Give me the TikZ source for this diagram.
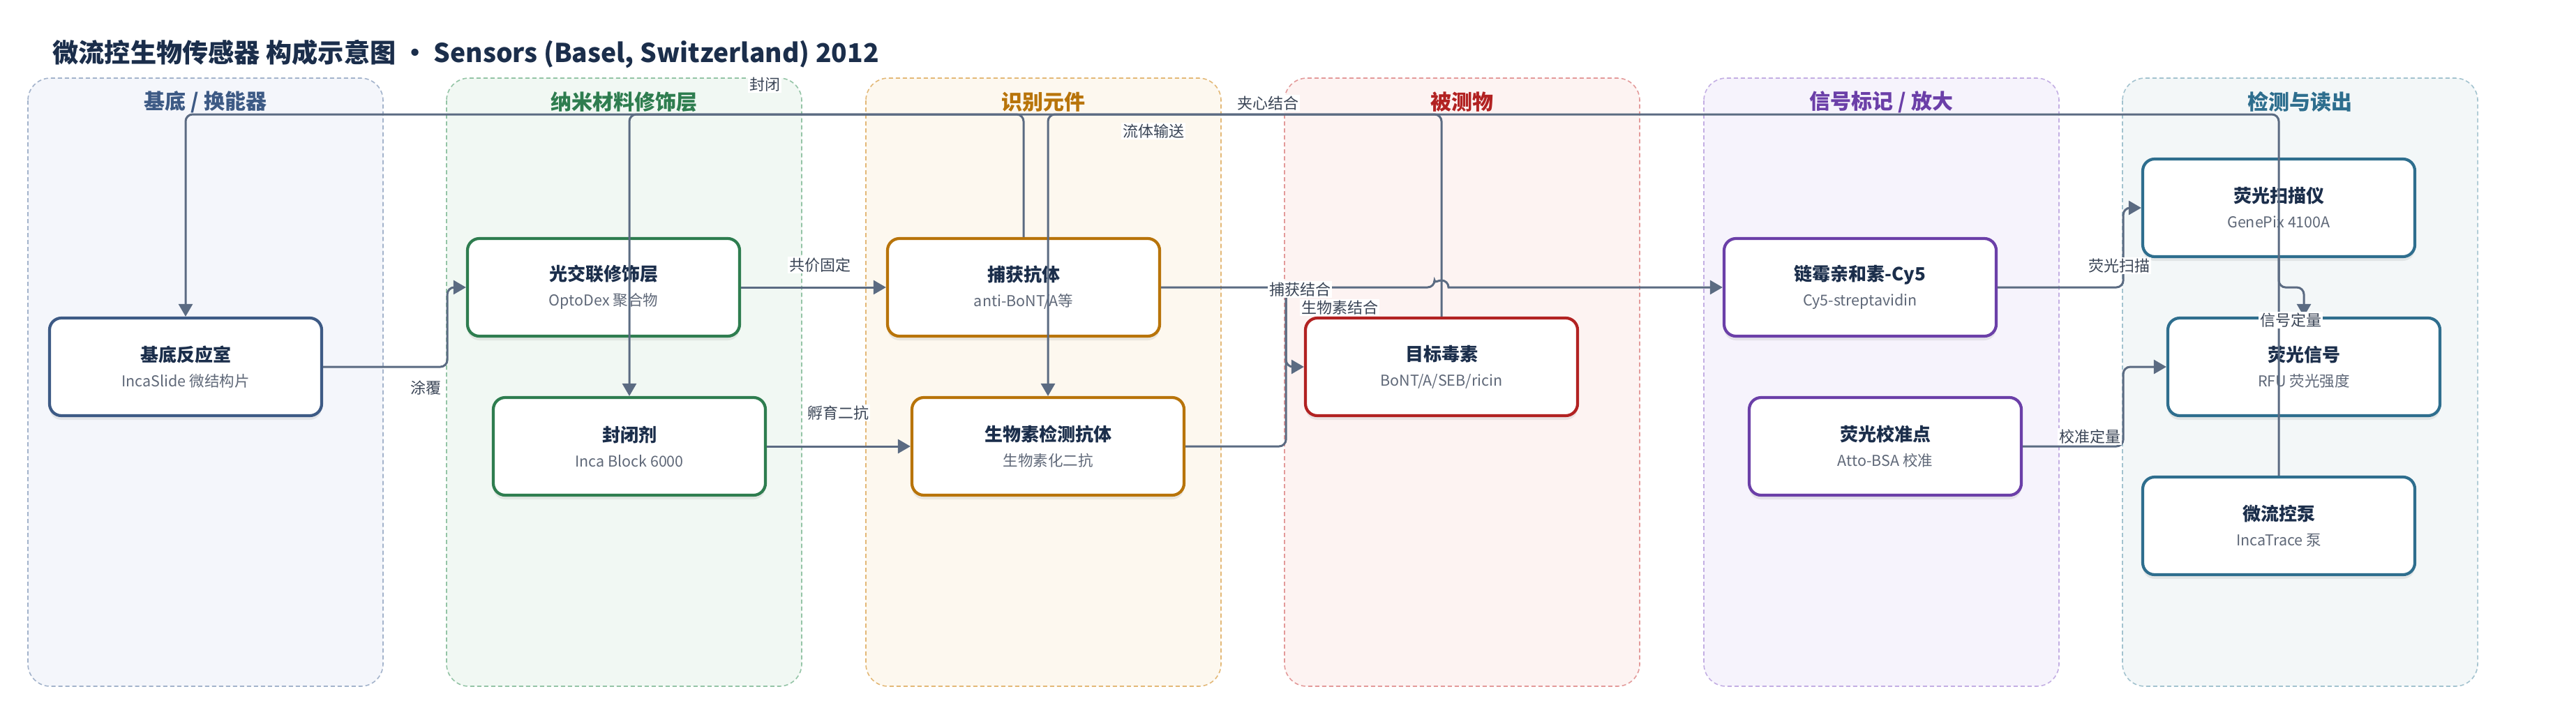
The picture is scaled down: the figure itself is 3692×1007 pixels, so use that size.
\documentclass[tikz,border=0pt]{standalone}
\usepackage{fontspec}
\setmainfont{Noto Sans CJK SC}
\usepackage{tikz}
\usetikzlibrary{arrows.meta, shadows, positioning}

\definecolor{inkC}{HTML}{1B2E4B}
\definecolor{edgeC}{HTML}{5B6B82}
\definecolor{subC}{HTML}{5F6878}
\definecolor{lblC}{HTML}{3A4556}
% lane colours: background / dashed border / accent
\definecolor{aBg}{HTML}{F4F6FB}\definecolor{aBd}{HTML}{A3B3CB}\definecolor{aC}{HTML}{3D5A85}
\definecolor{bBg}{HTML}{F1F8F3}\definecolor{bBd}{HTML}{94C4A6}\definecolor{bC}{HTML}{2E7D4F}
\definecolor{cBg}{HTML}{FDF8EF}\definecolor{cBd}{HTML}{E3B877}\definecolor{cC}{HTML}{B8740A}
\definecolor{dBg}{HTML}{FDF3F2}\definecolor{dBd}{HTML}{E39A9A}\definecolor{dC}{HTML}{B22222}
\definecolor{eBg}{HTML}{F6F3FC}\definecolor{eBd}{HTML}{C3AEE3}\definecolor{eC}{HTML}{6B3FA8}
\definecolor{fBg}{HTML}{F3F7F8}\definecolor{fBd}{HTML}{A3C3CF}\definecolor{fC}{HTML}{2E6E8E}

\newcommand{\subtxt}{\fontsize{10.75}{13}\selectfont\mdseries\color{subC}}

\begin{document}
\begin{tikzpicture}[x=0.5pt, y=-0.5pt,
    lane/.style={dash pattern=on 3pt off 2pt, line width=0.8pt, rounded corners=16pt},
    lanetitle/.style={font=\fontsize{15}{18}\selectfont\bfseries},
    box/.style={draw, line width=2.1pt, rounded corners=8.5pt, fill=white,
        minimum width=195pt, minimum height=70pt, align=center, text=inkC,
        font=\fontsize{13}{17}\selectfont\bfseries,
        drop shadow={shadow xshift=0pt, shadow yshift=-3pt, opacity=0.15}},
    flow/.style={draw=edgeC, line width=1.5pt, rounded corners=5pt,
        -{Triangle[length=9pt, width=10pt]}},
    lbl/.style={fill=white, inner sep=1pt, text=lblC, font=\fontsize{11}{13}\selectfont}]

    \useasboundingbox (0,0) rectangle (3692,1007);

    \node[anchor=west, inner sep=0pt, text=inkC, font=\fontsize{18.6}{22}\selectfont\bfseries] (title) at (75,77)
        {微流控生物传感器 构成示意图 · Sensors (Basel, Switzerland) 2012};

    % lanes
    \foreach \x/\ttl/\bg/\bd/\tc [count=\i] in {40/{基底 / 换能器}/aBg/aBd/aC, 640/纳米材料修饰层/bBg/bBd/bC,
            1241/识别元件/cBg/cBd/cC, 1841/被测物/dBg/dBd/dC,
            2442/{信号标记 / 放大}/eBg/eBd/eC, 3042/检测与读出/fBg/fBd/fC} {
        \draw[lane, fill=\bg, draw=\bd] (\x,112) rectangle ++(509,872);
        \node[lanetitle, text=\tc] (lane\i) at (\x+254.5,146) {\ttl};
    }

    % components
    \node[box, draw=aC] (slide) at (266,526) {基底反应室\\[1pt]{\subtxt IncaSlide 微结构片}};
    \node[box, draw=bC] (opto) at (865,412) {光交联修饰层\\[1pt]{\subtxt OptoDex 聚合物}};
    \node[box, draw=bC] (block) at (902,640) {封闭剂\\[1pt]{\subtxt Inca Block 6000}};
    \node[box, draw=cC] (capab) at (1467,412) {捕获抗体\\[1pt]{\subtxt anti-BoNT/A等}};
    \node[box, draw=cC] (detab) at (1502,640) {生物素检测抗体\\[1pt]{\subtxt 生物素化二抗}};
    \node[box, draw=dC] (toxin) at (2066,526) {目标毒素\\[1pt]{\subtxt BoNT/A/SEB/ricin}};
    \node[box, draw=eC] (strep) at (2666,412) {链霉亲和素-Cy5\\[1pt]{\subtxt Cy5-streptavidin}};
    \node[box, draw=eC] (calib) at (2702,640) {荧光校准点\\[1pt]{\subtxt Atto-BSA 校准}};
    \node[box, draw=fC] (scanner) at (3266,298) {荧光扫描仪\\[1pt]{\subtxt GenePix 4100A}};
    \node[box, draw=fC] (signal) at (3302,526) {荧光信号\\[1pt]{\subtxt RFU 荧光强度}};
    \node[box, draw=fC] (pump) at (3266,754) {微流控泵\\[1pt]{\subtxt IncaTrace 泵}};

    % connectors
    \coordinate (rail) at (0,164);
    \draw[flow] (slide.east) -- ++(178,0) |- (opto.west);
    \draw[flow] (opto.east) -- (capab.west);
    \draw[flow] (block.east) -- (detab.west);
    \draw[flow] (capab.east) -- ++(179,0) |- (toxin.west);
    \draw[flow] (detab.east) -- ++(144,0) |- ([xshift=-5pt]toxin.north |- strep.west)
        [sharp corners] arc[start angle=180, end angle=0, radius=5pt] -- (strep.west);
    \draw[flow] (toxin.north) -- (toxin.north |- rail) -| (detab.north);
    \draw[flow] (capab.north) -- (capab.north |- rail) -| (block.north);
    \draw[flow] (pump.north) -- (pump.north |- rail) -| (slide.north);
    \draw[flow] (strep.east) -- ++(180,0) |- (scanner.west);
    \draw[flow] (calib.east) -- ++(144,0) |- (signal.west);
    \draw[flow] (scanner.south) -- ++(0,42) -| (signal.north);

    % connector labels
    \node[lbl] (lcoat) at (610,556) {涂覆};
    \node[lbl] (lfix) at (1175,380) {共价固定};
    \node[lbl] (linc) at (1201,592) {孵育二抗};
    \node[lbl] (lcap) at (1863,415) {捕获结合};
    \node[lbl] (lbio) at (1920,441) {生物素结合};
    \node[lbl] (lsand) at (1817,148) {夹心结合};
    \node[lbl] (lblock) at (1096,121) {封闭};
    \node[lbl] (lflow) at (1653,188) {流体输送};
    \node[lbl] (lscan) at (3037,381) {荧光扫描};
    \node[lbl] (lcal) at (2995,626) {校准定量};
    \node[lbl] (lquant) at (3283,459) {信号定量};
\end{tikzpicture}
\end{document}
